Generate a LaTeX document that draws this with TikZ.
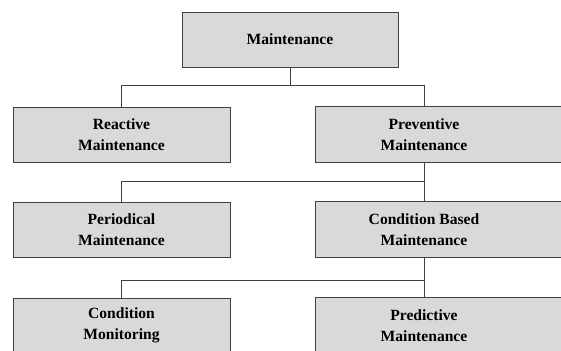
\documentclass[tikz,border=0pt]{standalone}
\usepackage{fontspec}
\setmainfont{Liberation Serif}
\usetikzlibrary{backgrounds}
\tikzset{
	mbox/.style={draw=black!75, fill=black!15, line width=0.8pt, minimum width=217pt, minimum height=55pt, inner sep=0pt, align=center, font=\bfseries\fontsize{15.6}{20.5}\selectfont},
	wbox/.style={mbox, draw=none, fill=none},
	wideback/.style={draw=black!75, fill=black!15, line width=0.8pt},
	link/.style={draw=black!75, line width=0.9pt}
}

\begin{document}
\begin{tikzpicture}[x=1pt,y=-1pt]
		%%%%% START %%%%%
		\useasboundingbox (0,0) rectangle (561,350);
		
		\node[mbox, minimum width=216pt] (main) at (290,39.5) {Maintenance};
		
		\node[mbox] (react) at (121.5,134.5) {Reactive\\Maintenance};
		\node[wbox] (prev) at (424,134.5) {Preventive\\Maintenance};
		
		\node[mbox] (peri) at (121.5,229.5) {Periodical\\Maintenance};
		\node[wbox] (cbm) at (424,229.5) {Condition Based\\Maintenance};
		
		\node[mbox] (cmon) at (121.5,325.5) {Condition\\Monitoring};
		\node[wbox] (pred) at (424,325.5) {Predictive\\Maintenance};
		
		% right column boxes run off the page
		\begin{scope}[on background layer]
			\foreach \n in {prev,cbm,pred}
				\draw[wideback] (\n.north west) rectangle ([xshift=40pt]\n.south east);
		\end{scope}
		
		\draw[link] (main.south) -- ++(0,18) -| (react.north);
		\draw[link] (main.south) -- ++(0,18) -| (prev.north);
		
		\draw[link] (prev.south) -- (cbm.north);
		\draw[link] (prev.south) -- ++(0,19) -| (peri.north);
		
		\draw[link] (cbm.south) -- (pred.north);
		\draw[link] (cbm.south) -- ++(0,23) -| (cmon.north);
		
		%%%%% END %%%%%
\end{tikzpicture}
\end{document}
